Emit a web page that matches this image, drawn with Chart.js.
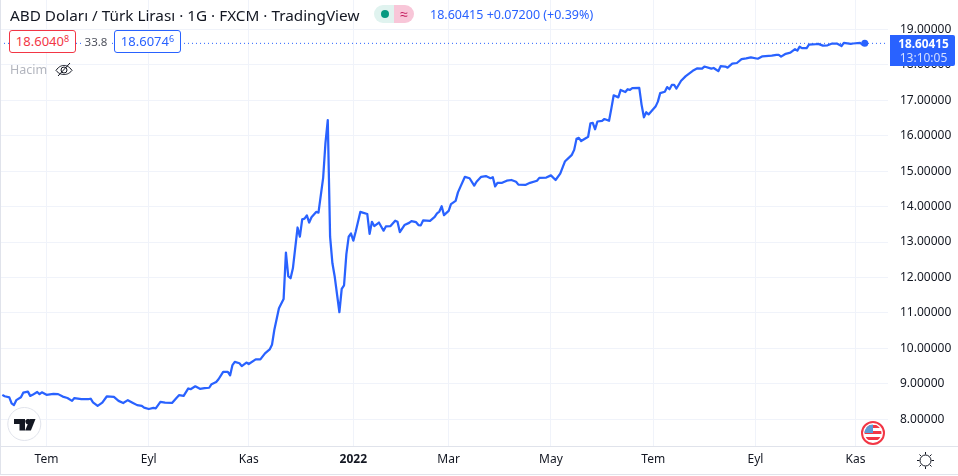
<!DOCTYPE html>
<html>
<head>
<meta charset="utf-8">
<title>ABD Doları / Türk Lirası</title>
<script src="https://cdn.jsdelivr.net/npm/chart.js@4"></script>
<style>
html,body{margin:0;padding:0;background:#fff;}
#wrap{position:relative;width:958px;height:476px;overflow:hidden;font-family:"Noto Sans",sans-serif;color:#131722;}
#wrap canvas{position:absolute;left:0;top:0;}
.abs{position:absolute;white-space:nowrap;}
.box{position:absolute;top:30px;height:21px;width:65px;border-radius:3px;border:1px solid;background:#fff;font-size:13px;line-height:21px;text-align:center;}
.box sup{font-size:9px;line-height:0;vertical-align:4px;}
.hline{position:absolute;background:#e0e3eb;}
</style>
</head>
<body>
<div id="wrap">
  <canvas id="grafico" width="958" height="476"></canvas>

  <div class="hline" style="left:0;top:0;width:1px;height:474px"></div>
  <div class="hline" style="left:0;top:446px;width:958px;height:1px"></div>
  <div class="hline" style="left:0;top:474px;width:958px;height:1px"></div>

  <div class="abs" style="left:10px;top:5px;font-size:15.3px;line-height:20px">ABD Doları / Türk Lirası · 1G · FXCM · TradingView</div>
  <div class="abs" style="left:374px;top:5px;width:20px;height:18px;background:#e0f3ef;border-radius:9px 0 0 9px"></div>
  <div class="abs" style="left:381px;top:10px;width:8px;height:8px;background:#089981;border-radius:50%"></div>
  <div class="abs" style="left:394px;top:5px;width:20px;height:18px;background:#f8c6d8;border-radius:0 9px 9px 0;color:#c2185b;font-size:14px;line-height:17px;text-align:center">≈</div>
  <div class="abs" style="left:430px;top:6px;font-size:12.5px;line-height:18px;color:#2962ff">18.60415 +0.07200 (+0.39%)</div>

  <div class="box" style="left:9px;border-color:#f23645;color:#f23645">18.6040<sup>8</sup></div>
  <div class="abs" style="left:82px;top:32px;width:28px;background:#fff;text-align:center;font-size:11.5px;line-height:20px;color:#50535e">33.8</div>
  <div class="box" style="left:114px;border-color:#2962ff;color:#2962ff">18.6074<sup>6</sup></div>

  <div class="abs" style="left:10px;top:61px;font-size:12.5px;line-height:18px;color:#b2b5be">Hacim</div>
  <svg class="abs" style="left:55px;top:61px" width="18" height="18" viewBox="0 0 18 18" fill="none" stroke="#131722" stroke-width="1">
    <path d="M1 9.5C4 5 7 4.5 9 4.5s5 .5 8 5c-3 3.5-6 4-8 4s-5-.5-8-4z"/>
    <circle cx="9" cy="9" r="3"/>
    <path d="M3 15L15 2"/>
  </svg>

  <div class="abs" style="left:890px;top:35px;width:65px;height:31px;background:#2962ff;border-radius:0 2px 2px 0"></div>
  <div class="abs" style="left:891px;top:36px;width:65px;text-align:center;font-size:11.8px;font-weight:700;line-height:15px;color:#fff">18.60415</div>
  <div class="abs" style="left:891px;top:50px;width:65px;text-align:center;font-size:12px;line-height:15px;color:#d4dfff">13:10:05</div>

  <svg class="abs" style="left:7px;top:407px" width="35" height="35" viewBox="0 0 35 35">
    <circle cx="17.3" cy="17" r="16.5" fill="#fff" stroke="#e0e3eb"/>
    <path d="M7 12h11v11.5h-5.5V17H7zM20.5 12h1a2.6 2.6 0 0 1 0 5.2 2.6 2.6 0 0 1-1-5.2z" fill="#131722"/>
    <path d="M23 12h5.5l-4.6 11.5h-5.8z" fill="#131722"/>
  </svg>

  <svg class="abs" style="left:861px;top:421px" width="24" height="24" viewBox="0 0 24 24">
    <circle cx="12" cy="12" r="11" fill="#fff" stroke="#f23645" stroke-width="2"/>
    <clipPath id="bayrak"><circle cx="12" cy="12" r="8.5"/></clipPath>
    <g clip-path="url(#bayrak)">
      <rect x="2" y="3" width="20" height="18" fill="#fff"/>
      <rect x="2" y="4" width="20" height="3" fill="#f23645"/>
      <rect x="2" y="10" width="20" height="3" fill="#f23645"/>
      <rect x="2" y="16" width="20" height="3" fill="#f23645"/>
      <rect x="2" y="3" width="10" height="9" fill="#5b9bd5"/>
    </g>
  </svg>

  <svg class="abs" style="left:916px;top:451px" width="19" height="19" viewBox="0 0 19 19" fill="none" stroke="#131722" stroke-width="1">
    <circle cx="9.5" cy="9.5" r="5.5"/>
    <path d="M9.5 1v2.5M9.5 15.5V18M1 9.5h2.5M15.5 9.5H18M3.5 3.5l1.7 1.7M13.8 13.8l1.7 1.7M3.5 15.5l1.7-1.7M13.8 5.2l1.7-1.7"/>
  </svg>
</div>

<script>
/** Gun numarasi (islem gunu sirasi), Tem 2021'den itibaren */
const gunler = [
  1,2,4,5,6,7,9,10,12,13,14,16,17,18,20,23,25,27,29,31,32,35,38,39,40,42,44,46,49,51,53,55,57,59,61,62,64,66,67,69,71,74,76,77,79,
  81,82,84,86,88,90,91,93,94,96,98,99,100,101,103,104,106,107,110,112,114,116,117,118,120,122,123,124,125,126,128,129,130,131,132,133,134,136,137,139,140,141,
  142,143,144,146,147,148,149,150,151,152,153,155,156,158,159,160,161,163,165,166,168,170,171,172,174,176,177,179,180,181,182,185,187,188,189,190,191,193,194,196,197,198,
  200,202,204,205,207,209,211,212,213,214,216,218,220,222,223,226,228,231,232,235,237,239,241,243,246,247,248,249,250,253,254,255,256,257,259,260,262,263,264,266,267,269,270,271,272,275,
  276,277,278,279,282,283,284,286,287,288,289,290,291,293,295,298,300,302,303,306,307,309,310,312,313,315,317,319,321,323,326,328,332,334,335,336,338,340,342,343,344,345,347,348,351,352,354,356,358,360,362,363,366,367,370,371,372
];

/** Kapanis fiyatlari */
const fiyatlar = [
  8.69,8.65,8.62,8.45,8.40,8.54,8.62,8.75,8.78,8.66,8.69,8.77,8.71,8.76,8.69,8.72,8.71,8.64,8.60,8.52,8.60,8.57,8.57,8.58,8.48,8.38,8.47,8.65,8.63,8.52,8.46,8.54,8.47,8.40,8.38,8.33,8.29,8.32,8.31,8.49,8.47,8.46,8.61,8.68,8.66,
  8.87,8.85,8.93,8.86,8.88,8.89,8.99,9.05,9.13,9.34,9.34,9.24,9.53,9.62,9.58,9.50,9.60,9.56,9.69,9.69,9.86,9.97,10.10,10.52,11.13,11.39,12.70,12.04,11.98,12.26,13.41,13.15,13.64,13.66,13.75,13.55,13.70,13.85,13.83,14.80,15.79,16.44,
  13.15,12.40,12.02,11.02,11.68,11.78,12.66,13.15,13.24,13.04,13.29,13.85,13.83,13.79,13.23,13.57,13.45,13.55,13.32,13.44,13.45,13.60,13.57,13.28,13.48,13.54,13.59,13.56,13.48,13.47,13.61,13.60,13.71,13.81,13.86,14.01,13.76,13.88,14.07,14.16,14.40,14.55,
  14.84,14.80,14.59,14.70,14.84,14.86,14.80,14.83,14.57,14.67,14.67,14.73,14.75,14.70,14.62,14.61,14.67,14.73,14.81,14.82,14.88,14.75,14.93,15.27,15.46,15.60,15.91,15.94,15.85,15.97,16.35,16.36,16.18,16.40,16.42,16.47,16.42,16.77,17.14,17.08,17.29,17.23,17.31,17.29,17.34,17.35,
  16.87,16.52,16.66,16.60,16.82,16.96,17.20,17.24,17.37,17.31,17.43,17.43,17.33,17.55,17.68,17.83,17.90,17.89,17.95,17.89,17.91,17.82,17.96,17.95,17.92,18.03,18.05,18.16,18.18,18.21,18.17,18.24,18.26,18.28,18.28,18.23,18.31,18.34,18.44,18.40,18.51,18.47,18.47,18.57,18.58,18.59,18.54,18.55,18.60,18.60,18.53,18.62,18.59,18.60,18.62,18.57,18.60415
];

const sonFiyat = 18.60415;

/** Eksen etiketleri */
const ayGunleri = [20,64,107,152,193,237,281,325,368];
const ayEtiketleri = ["Tem","Eyl","Kas","2022","Mar","May","Tem","Eyl","Kas"];
const fiyatEtiketleri = [8,9,10,11,12,13,14,15,16,17,18,19];

const ctx = document.getElementById("grafico");
const azul = "#2962ff";
const ancho = ctx.width;

/** Eksenlerin ekstra bosluk istemesini kapatir */
function sinRelleno(eje) {
    eje.paddingTop = 0;
    eje.paddingBottom = 0;
    eje.paddingLeft = 0;
    eje.paddingRight = 0;
}

new Chart(ctx, {
    type: "line",
    data: {
        datasets: [{
            label: "USD/TRY",
            data: gunler.map((g, i) => ({ x: g, y: fiyatlar[i] })),
            borderColor: azul,
            backgroundColor: azul,
            borderWidth: 2.25,
            tension: 0,
            borderJoinStyle: "round",
            pointRadius: gunler.map((g, i) => i == gunler.length - 1 ? 3.5 : 0),
            pointBorderWidth: 0
        }, {
            label: "Son fiyat",
            data: [{ x: 0, y: sonFiyat }, { x: 382, y: sonFiyat }],
            borderColor: azul,
            borderWidth: 1,
            borderDash: [1, 3],
            pointRadius: 0
        }]
    },
    options: {
        responsive: false,
        animation: false,
        events: [],
        layout: { padding: 0, autoPadding: false },
        plugins: {
            legend: { display: false },
            tooltip: { enabled: false }
        },
        scales: {
            x: {
                type: "linear",
                min: 0,
                max: 382,
                afterBuildTicks: (eje) => {
                    eje.ticks = ayGunleri.map(v => ({ value: v }));
                },
                afterFit: (eje) => { eje.height = 30; sinRelleno(eje); },
                grid: { color: "#f0f3fa", drawTicks: false },
                border: { display: false },
                ticks: {
                    autoSkip: false,
                    maxRotation: 0,
                    padding: 6,
                    color: "#131722",
                    font: (c) => ({
                        family: "'Noto Sans', sans-serif",
                        size: 12,
                        weight: c.tick && c.tick.value == 152 ? "bold" : "normal"
                    }),
                    callback: (v) => ayEtiketleri[ayGunleri.indexOf(v)]
                }
            },
            y: {
                position: "right",
                min: 7.247,
                max: 19.827,
                afterBuildTicks: (eje) => {
                    eje.ticks = fiyatEtiketleri.map(v => ({ value: v }));
                },
                afterFit: (eje) => { eje.width = ancho - 888; sinRelleno(eje); },
                grid: { color: "#f0f3fa", drawTicks: false },
                border: { display: false },
                ticks: {
                    autoSkip: false,
                    padding: 12,
                    color: "#131722",
                    font: { family: "'Noto Sans', sans-serif", size: 12 },
                    callback: (v) => v.toFixed(5)
                }
            }
        }
    }
});
</script>
</body>
</html>
